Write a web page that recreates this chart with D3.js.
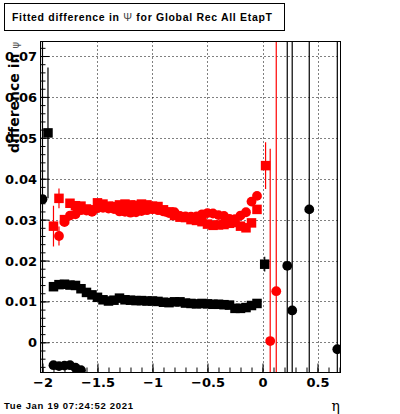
<!DOCTYPE html>
<html>
<head>
<meta charset="utf-8">
<script src="https://cdn.jsdelivr.net/npm/d3@7"></script>
<style>
html,body{margin:0;padding:0;background:#fff;}
svg{display:block;}
</style>
</head>
<body>
<script>
// ---------- data ----------
const xTicks = [-2, -1.5, -1, -0.5, 0, 0.5];
const xTickLabels = ["\u22122", "\u22121.5", "\u22121", "\u22120.5", "0", "0.5"];
const yTicks = [0, 0.01, 0.02, 0.03, 0.04, 0.05, 0.06, 0.07];
const yTickLabels = ["0", "0.01", "0.02", "0.03", "0.04", "0.05", "0.06", "0.07"];

// black squares
const blackSqEta = [-1.95, -1.90, -1.85, -1.80, -1.75, -1.70, -1.65, -1.60, -1.55, -1.50, -1.45, -1.40, -1.35, -1.30, -1.25, -1.20, -1.15, -1.10, -1.05, -1.00, -0.95, -0.90, -0.85, -0.80, -0.75, -0.70, -0.65, -0.60, -0.55, -0.50, -0.45, -0.40, -0.35, -0.30, -0.25, -0.20, -0.15, -0.10, -0.05, 0.02];
const blackSqVal = [0.0512, 0.0136, 0.0141, 0.0142, 0.0140, 0.0139, 0.0131, 0.0122, 0.0116, 0.0110, 0.0104, 0.0101, 0.0103, 0.0108, 0.0104, 0.0103, 0.0102, 0.0102, 0.0101, 0.0101, 0.0100, 0.0098, 0.0097, 0.0099, 0.0099, 0.0096, 0.0095, 0.0094, 0.0095, 0.0094, 0.0093, 0.0093, 0.0092, 0.0091, 0.0083, 0.0083, 0.0085, 0.0090, 0.0095, 0.0191];
const blackSqErr = [0.0160, 0.0003, 0.0003, 0.0003, 0.0003, 0.0003, 0.0003, 0.0003, 0.0003, 0.0003, 0.0003, 0.0003, 0.0003, 0.0003, 0.0003, 0.0003, 0.0003, 0.0003, 0.0003, 0.0003, 0.0003, 0.0003, 0.0003, 0.0003, 0.0003, 0.0003, 0.0003, 0.0003, 0.0003, 0.0003, 0.0003, 0.0003, 0.0003, 0.0003, 0.0003, 0.0003, 0.0003, 0.0003, 0.0003, 0.0018];

// black circles
const blackCircEta = [-2.00, -1.90, -1.85, -1.80, -1.75, -1.70, -1.65, 0.225, 0.27, 0.425, 0.68];
const blackCircVal = [0.0350, -0.0056, -0.0058, -0.0057, -0.0056, -0.0062, -0.0068, 0.0187, 0.0078, 0.0325, -0.0017];
const blackCircErr = [0.1, 0.0003, 0.0003, 0.0003, 0.0003, 0.0003, 0.0003, 0.1, 0.1, 0.1, 0.1];

// red squares
const redSqEta = [-1.90, -1.85, -1.80, -1.75, -1.70, -1.65, -1.60, -1.55, -1.50, -1.45, -1.40, -1.35, -1.30, -1.25, -1.20, -1.15, -1.10, -1.05, -1.00, -0.95, -0.90, -0.85, -0.80, -0.75, -0.70, -0.65, -0.60, -0.55, -0.50, -0.45, -0.40, -0.35, -0.30, -0.25, -0.20, -0.15, -0.10, -0.05, 0.028];
const redSqVal = [0.0284, 0.0352, 0.0300, 0.0340, 0.0334, 0.0333, 0.0326, 0.0324, 0.0341, 0.0338, 0.0333, 0.0332, 0.0336, 0.0338, 0.0336, 0.0335, 0.0338, 0.0336, 0.0333, 0.0332, 0.0324, 0.0319, 0.0310, 0.0306, 0.0305, 0.0300, 0.0298, 0.0295, 0.0289, 0.0286, 0.0287, 0.0288, 0.0291, 0.0293, 0.0284, 0.0280, 0.0292, 0.0325, 0.0432];
const redSqErr = [0.0050, 0.0024, 0.0004, 0.0004, 0.0004, 0.0004, 0.0004, 0.0004, 0.0004, 0.0004, 0.0004, 0.0004, 0.0004, 0.0004, 0.0004, 0.0004, 0.0004, 0.0004, 0.0004, 0.0004, 0.0004, 0.0004, 0.0004, 0.0004, 0.0004, 0.0004, 0.0004, 0.0004, 0.0004, 0.0004, 0.0004, 0.0004, 0.0004, 0.0004, 0.0004, 0.0004, 0.0004, 0.0004, 0.0057];

// red circles
const redCircEta = [-1.85, -1.80, -1.75, -1.70, -1.65, -1.60, -1.55, -1.50, -1.45, -1.40, -1.35, -1.30, -1.25, -1.20, -1.15, -1.10, -1.05, -1.00, -0.95, -0.90, -0.85, -0.80, -0.75, -0.70, -0.65, -0.60, -0.55, -0.50, -0.45, -0.40, -0.35, -0.30, -0.25, -0.20, -0.15, -0.10, -0.05, 0.07, 0.125];
const redCircVal = [0.0260, 0.0294, 0.0310, 0.0313, 0.0323, 0.0322, 0.0319, 0.0328, 0.0329, 0.0327, 0.0326, 0.0320, 0.0319, 0.0317, 0.0318, 0.0321, 0.0323, 0.0325, 0.0323, 0.0320, 0.0316, 0.0318, 0.0309, 0.0308, 0.0307, 0.0308, 0.0313, 0.0316, 0.0315, 0.0311, 0.0309, 0.0302, 0.0301, 0.0310, 0.0318, 0.0344, 0.0358, 0.0003, 0.0125];
const redCircErr = [0.0023, 0.0004, 0.0004, 0.0004, 0.0004, 0.0004, 0.0004, 0.0004, 0.0004, 0.0004, 0.0004, 0.0004, 0.0004, 0.0004, 0.0004, 0.0004, 0.0004, 0.0004, 0.0004, 0.0004, 0.0004, 0.0004, 0.0004, 0.0004, 0.0004, 0.0004, 0.0004, 0.0004, 0.0004, 0.0004, 0.0004, 0.0004, 0.0004, 0.0004, 0.0004, 0.0004, 0.0004, 0.0470, 0.1];

const titleText = "Fitted difference in ";
const titleSym = "\u03A8";
const titleRest = " for Global Rec All EtapT";
const dateText = "Tue Jan 19 07:24:52 2021";

// ---------- layout ----------
const W = 400, H = 414;
const L = 40.5, R = 340.5, T = 41.5, B = 372.5;
const x = d3.scaleLinear().domain([-2.018, 0.709]).range([L, R]);
const y = d3.scaleLinear().domain([-0.00738, 0.07355]).range([B, T]);

const svg = d3.select("body").append("svg").attr("width", W).attr("height", H);
svg.append("rect").attr("width", W).attr("height", H).attr("fill", "#fff");

svg.append("clipPath").attr("id", "clip").append("rect")
  .attr("x", L).attr("y", T).attr("width", R - L).attr("height", B - T);

// grid
const grid = svg.append("g").attr("stroke", "#000").attr("stroke-width", 1).attr("stroke-dasharray", "1,3");
grid.selectAll(".gx").data(xTicks).join("line")
  .attr("x1", d => Math.round(x(d)) + 0.5).attr("x2", d => Math.round(x(d)) + 0.5)
  .attr("y1", T).attr("y2", B);
grid.selectAll(".gy").data(yTicks).join("line")
  .attr("y1", d => Math.round(y(d)) + 0.5).attr("y2", d => Math.round(y(d)) + 0.5)
  .attr("x1", L).attr("x2", R);

// data
const dataG = svg.append("g").attr("clip-path", "url(#clip)");
function drawSeries(eta, val, err, color, shape) {
  const pts = eta.map((e, i) => ({e, v: val[i], s: err[i]}));
  const g = dataG.append("g");
  g.selectAll("line").data(pts).join("line")
    .attr("x1", d => x(d.e)).attr("x2", d => x(d.e))
    .attr("y1", d => y(d.v - d.s)).attr("y2", d => y(d.v + d.s))
    .attr("stroke", color).attr("stroke-width", 1.2);
  if (shape === "square") {
    g.selectAll("rect").data(pts).join("rect")
      .attr("x", d => x(d.e) - 4.75).attr("y", d => y(d.v) - 4.75)
      .attr("width", 9.5).attr("height", 9.5).attr("fill", color);
  } else {
    g.selectAll("circle").data(pts).join("circle")
      .attr("cx", d => x(d.e)).attr("cy", d => y(d.v)).attr("r", 4.9).attr("fill", color);
  }
}
drawSeries(blackSqEta, blackSqVal, blackSqErr, "#000", "square");
drawSeries(blackCircEta, blackCircVal, blackCircErr, "#000", "circle");
drawSeries(redSqEta, redSqVal, redSqErr, "#ff0000", "square");
drawSeries(redCircEta, redCircVal, redCircErr, "#ff0000", "circle");

// axes
const font = "'DejaVu Sans', sans-serif";
const xAxis = d3.axisBottom(x).tickValues(xTicks).tickSize(-9).tickPadding(6)
  .tickFormat((d, i) => xTickLabels[i]);
const xMinor = d3.axisBottom(x).tickValues(d3.range(-2, 0.71, 0.1)).tickSize(-5).tickFormat("");
const yAxis = d3.axisLeft(y).tickValues(yTicks).tickSize(-9).tickPadding(3.5)
  .tickFormat((d, i) => yTickLabels[i]);
const yMinor = d3.axisLeft(y).tickValues(d3.range(-0.006, 0.0735, 0.002)).tickSize(-5).tickFormat("");

function styleAxis(g) {
  g.select(".domain").remove();
  g.selectAll("line").attr("stroke", "#000").attr("stroke-width", 1);
  g.selectAll("text").attr("font-family", font).attr("font-weight", "bold")
    .attr("font-size", 13).attr("fill", "#000");
}
svg.append("g").attr("transform", `translate(0,${B})`).call(xMinor).call(styleAxis);
svg.append("g").attr("transform", `translate(0,${B})`).call(xAxis).call(styleAxis)
  .selectAll("text").attr("dy", "0.71em").attr("y", 5);
svg.append("g").attr("transform", `translate(${L},0)`).call(yMinor).call(styleAxis);
svg.append("g").attr("transform", `translate(${L},0)`).call(yAxis).call(styleAxis)
  .selectAll("text").attr("dy", "0.35em");

// frame
svg.append("rect").attr("x", L).attr("y", T).attr("width", R - L).attr("height", B - T)
  .attr("fill", "none").attr("stroke", "#000").attr("stroke-width", 1);

// y title
const yt = svg.append("text")
  .attr("transform", `translate(18.5,42) rotate(-90)`)
  .attr("text-anchor", "end")
  .attr("font-family", font).attr("font-size", 14).attr("font-weight", "bold").attr("fill", "#000");
yt.append("tspan").text("difference in ");
yt.append("tspan").attr("font-weight", "normal").attr("font-size", 10).attr("fill", "#555").text("\u03C8");

// x title
svg.append("text").attr("x", 340).attr("y", 411).attr("text-anchor", "end")
  .attr("font-family", "'DejaVu Serif', serif").attr("font-size", 14).attr("fill", "#000").text("\u03B7");

// title box
svg.append("rect").attr("x", 4.5).attr("y", 3.5).attr("width", 280).attr("height", 27)
  .attr("fill", "#fff").attr("stroke", "#000").attr("stroke-width", 1);
const tt = svg.append("text").attr("x", 12).attr("y", 21)
  .attr("font-family", "'Liberation Sans', Arial, sans-serif").attr("font-weight", "bold")
  .attr("font-size", 10.5).attr("fill", "#000")
  .attr("textLength", 260).attr("lengthAdjust", "spacing");
tt.append("tspan").text(titleText);
tt.append("tspan").attr("font-weight", "normal").attr("fill", "#444").text(" " + titleSym + " ");
tt.append("tspan").text(titleRest);

// date
svg.append("text").attr("x", 4).attr("y", 409)
  .attr("font-family", "'Liberation Sans', Arial, sans-serif").attr("font-weight", "bold")
  .attr("font-size", 9.5).attr("fill", "#000")
  .attr("textLength", 129).attr("lengthAdjust", "spacing").text(dateText);
</script>
</body>
</html>
